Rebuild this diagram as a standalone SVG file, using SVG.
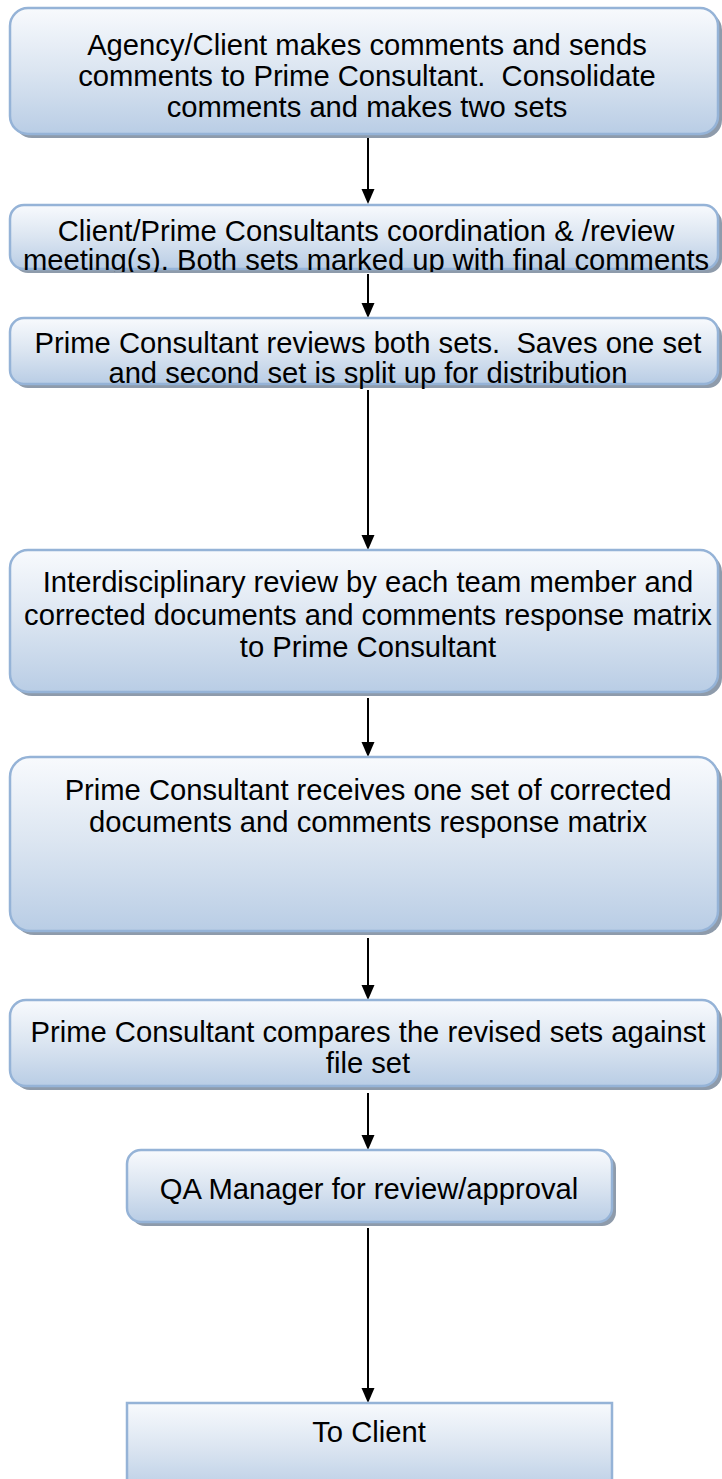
<svg xmlns="http://www.w3.org/2000/svg" width="722" height="1479" viewBox="0 0 722 1479">
<defs>
<linearGradient id="g" x1="0" y1="0" x2="0" y2="1">
<stop offset="0" stop-color="#f8fafd"/>
<stop offset="0.5" stop-color="#dbe5f1"/>
<stop offset="1" stop-color="#b9cde5"/>
</linearGradient>
<clipPath id="clip2"><rect x="0" y="200" width="722" height="72"/></clipPath>
</defs>
<style>
.sh{fill:#8e9bab}
.bx{fill:url(#g);stroke:#95b3d7;stroke-width:2.5}
.t{font-family:"Liberation Sans",Arial,sans-serif;font-size:29.2px;fill:#000;text-anchor:middle;white-space:pre}
.c{stroke:#000;stroke-width:2;fill:none}
</style>
<g id="connectors">
<line class="c" x1="368" y1="136" x2="368" y2="189"/>
<path d="M361.5,189 L374.5,189 L368,204 Z"/>
<line class="c" x1="368" y1="274" x2="368" y2="303"/>
<path d="M361.5,303 L374.5,303 L368,318 Z"/>
<line class="c" x1="368" y1="390" x2="368" y2="535"/>
<path d="M361.5,535 L374.5,535 L368,550 Z"/>
<line class="c" x1="368" y1="698" x2="368" y2="742"/>
<path d="M361.5,742 L374.5,742 L368,757 Z"/>
<line class="c" x1="368" y1="938" x2="368" y2="985"/>
<path d="M361.5,985 L374.5,985 L368,1000 Z"/>
<line class="c" x1="368" y1="1093" x2="368" y2="1135"/>
<path d="M361.5,1135 L374.5,1135 L368,1150 Z"/>
<line class="c" x1="368" y1="1228" x2="368" y2="1388"/>
<path d="M361.5,1388 L374.5,1388 L368,1403 Z"/>
</g>
<g id="n1">
<rect class="sh" x="14" y="12" width="708" height="126" rx="18"/>
<rect class="bx" x="10" y="8" width="708" height="126" rx="18"/>
<text class="t" x="367" y="55">Agency/Client makes comments and sends</text>
<text class="t" x="367" y="86">comments to Prime Consultant.  Consolidate</text>
<text class="t" x="367" y="117">comments and makes two sets</text>
</g>
<g id="n2">
<rect class="sh" x="14" y="209" width="708" height="64" rx="14"/>
<rect class="bx" x="10" y="205" width="708" height="64" rx="14"/>
<g clip-path="url(#clip2)">
<text class="t" x="366" y="241">Client/Prime Consultants coordination &amp; /review</text>
<text class="t" x="366" y="270">meeting(s). Both sets marked up with final comments</text>
</g>
</g>
<g id="n3">
<rect class="sh" x="14" y="322" width="708" height="66" rx="14"/>
<rect class="bx" x="10" y="318" width="708" height="66" rx="14"/>
<text class="t" x="368" y="353">Prime Consultant reviews both sets.  Saves one set</text>
<text class="t" x="368" y="383">and second set is split up for distribution</text>
</g>
<g id="n4">
<rect class="sh" x="14" y="554" width="708" height="142" rx="18"/>
<rect class="bx" x="10" y="550" width="708" height="142" rx="18"/>
<text class="t" x="368" y="592">Interdisciplinary review by each team member and</text>
<text class="t" x="368" y="625">corrected documents and comments response matrix</text>
<text class="t" x="368" y="657">to Prime Consultant</text>
</g>
<g id="n5">
<rect class="sh" x="14" y="761" width="708" height="174" rx="20"/>
<rect class="bx" x="10" y="757" width="708" height="174" rx="20"/>
<text class="t" x="368" y="800">Prime Consultant receives one set of corrected</text>
<text class="t" x="368" y="832">documents and comments response matrix</text>
</g>
<g id="n6">
<rect class="sh" x="14" y="1004" width="708" height="86" rx="16"/>
<rect class="bx" x="10" y="1000" width="708" height="86" rx="16"/>
<text class="t" x="368" y="1042">Prime Consultant compares the revised sets against</text>
<text class="t" x="368" y="1073">file set</text>
</g>
<g id="n7">
<rect class="sh" x="131" y="1154" width="485" height="72" rx="14"/>
<rect class="bx" x="127" y="1150" width="485" height="72" rx="14"/>
<text class="t" x="369" y="1199">QA Manager for review/approval</text>
</g>
<g id="n8">
<rect class="bx" x="127" y="1403" width="485" height="90"/>
<text class="t" x="369" y="1442">To Client</text>
</g>
</svg>
